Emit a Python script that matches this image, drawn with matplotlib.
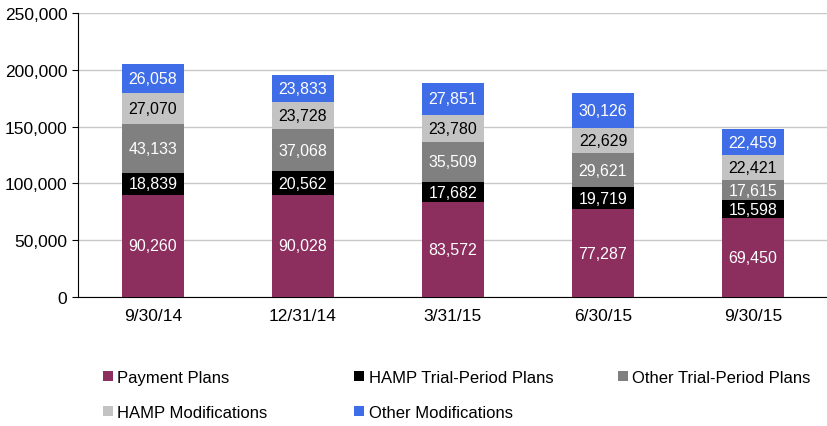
import numpy as np
import matplotlib.pyplot as plt
from matplotlib.patches import Patch

# Data
dates = ["9/30/14", "12/31/14", "3/31/15", "6/30/15", "9/30/15"]
payment_plans = [90260, 90028, 83572, 77287, 69450]
hamp_trial = [18839, 20562, 17682, 19719, 15598]
other_trial = [43133, 37068, 35509, 29621, 17615]
hamp_mods = [27070, 23728, 23780, 22629, 22421]
other_mods = [26058, 23833, 27851, 30126, 22459]

series = [
    ("Payment Plans", payment_plans, "#8c2e5e", "white"),
    ("HAMP Trial-Period Plans", hamp_trial, "#000000", "white"),
    ("Other Trial-Period Plans", other_trial, "#808080", "white"),
    ("HAMP Modifications", hamp_mods, "#c3c3c3", "black"),
    ("Other Modifications", other_mods, "#3f6de8", "white"),
]

plt.rcParams['font.family'] = ['Liberation Sans', 'DejaVu Sans']

fig = plt.figure(figsize=(8.28, 4.27), dpi=100)
ax = fig.add_axes([0.094, 0.302, 0.906, 0.665])

x = np.arange(len(dates))
bottom = np.zeros(len(dates))
for name, vals, color, txt in series:
    vals = np.array(vals)
    ax.bar(x, vals, width=0.41, bottom=bottom, color=color, zorder=3)
    for xi, b, v in zip(x, bottom, vals):
        ax.text(xi, b + v / 2, f"{v:,}", ha="center", va="center",
                color=txt, fontsize=11.5, zorder=4)
    bottom += vals

ax.set_xlim(-0.5, 4.5)
ax.set_ylim(0, 250000)
ax.set_yticks(np.arange(0, 250001, 50000))
ax.set_yticklabels([f"{v:,}" for v in range(0, 250001, 50000)], fontsize=12.5)
ax.set_xticks(x)
ax.set_xticklabels(dates, fontsize=12.5)
ax.tick_params(axis="x", length=0, pad=8)
ax.tick_params(axis="y", length=4, direction="out")
ax.yaxis.grid(True, color="#c8c8c8", linewidth=1, zorder=0)
for s in ["top", "right"]:
    ax.spines[s].set_visible(False)

# legend entries placed one by one, two rows like the reference
legend_pos = [(0.124, 0.096), (0.428, 0.096), (0.746, 0.096),
              (0.124, 0.014), (0.428, 0.014)]
for (name, _, color, _), (lx, ly) in zip(series, legend_pos):
    fig.legend(handles=[Patch(facecolor=color, label=name)], loc="lower left",
               bbox_to_anchor=(lx, ly), frameon=False, fontsize=12,
               handlelength=0.6, handleheight=0.6, handletextpad=0.25,
               borderpad=0, borderaxespad=0)

fig.savefig("out.png", dpi=100)
